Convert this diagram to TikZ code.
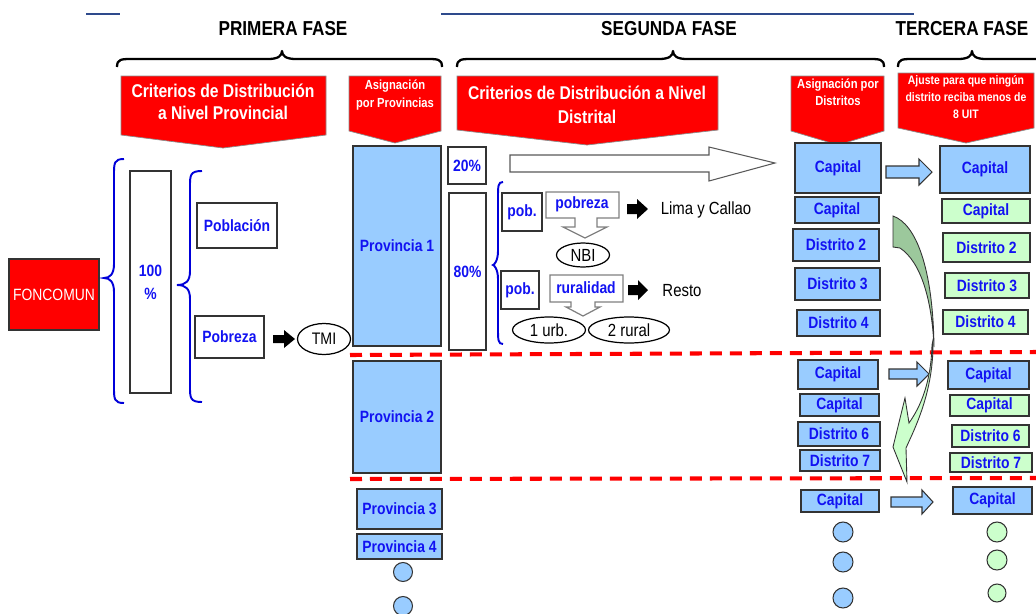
\documentclass[tikz,border=0pt]{standalone}
\usepackage{fontspec}
\setmainfont{Liberation Sans}
\newfontfamily\nar[FakeStretch=0.85]{Liberation Sans}
\usetikzlibrary{shapes.geometric}

\definecolor{boxblue}{HTML}{99CCFF}
\definecolor{boxgreen}{HTML}{CCFFCC}
\definecolor{darkgreen}{HTML}{9CC89C}
\definecolor{txtblue}{HTML}{1212F2}
\definecolor{navy}{HTML}{2E4A8C}
\definecolor{edge}{HTML}{333333}

% box node from its two corners: [style]{name}{x1}{y1}{x2}{y2}{text}
\newcommand\bx[7][bbox]{%
  \pgfmathsetmacro\bxw{(#5-#3)*0.02}%
  \pgfmathsetmacro\bxh{(#6-#4)*0.02}%
  \node[#1, minimum width=\bxw cm, minimum height=\bxh cm] (#2)
    at ({(#3+#5)/2},{(#4+#6)/2}) {#7};}
% horizontal block arrow: style, x start, x tip, x head base, y centre, half shaft, half head
\newcommand\harr[7]{%
  \path[#1] (#2,{#5-#6}) -- (#4,{#5-#6}) -- (#4,{#5-#7}) -- (#3,#5) -- (#4,{#5+#7})
    -- (#4,{#5+#6}) -- (#2,{#5+#6}) -- cycle;}
% horizontal curly brace opening downwards: x left, x right, x tip, y of the ends
\newcommand\hbrace[4]{%
  \draw[brc] (#1,#4) .. controls (#1,{#4-8}) and ({#1+4},{#4-8}) .. ({#1+16},{#4-8})
    -- ({#3-14},{#4-8}) .. controls ({#3-4},{#4-8}) and (#3,{#4-11}) .. (#3,{#4-16})
    .. controls (#3,{#4-11}) and ({#3+4},{#4-8}) .. ({#3+14},{#4-8})
    -- ({#2-16},{#4-8}) .. controls ({#2-4},{#4-8}) and (#2,{#4-8}) .. (#2,#4);}
% vertical curly brace opening rightwards: x ends, x spine, x tip, y top, y bottom, y tip
\newcommand\vbrace[6]{%
  \draw[bbrc] (#1,#4) .. controls (#2,#4) and (#2,{#4+4}) .. (#2,{#4+16})
    -- (#2,{#6-14}) .. controls (#2,{#6-4}) and ({#2-4},#6) .. (#3,#6)
    .. controls ({#2-4},#6) and (#2,{#6+4}) .. (#2,{#6+14})
    -- (#2,{#5-16}) .. controls (#2,{#5-4}) and (#2,#5) .. (#1,#5);}
% red header banner pointing down: x left, x right, y top, y side bottom, x tip, y tip
\newcommand\banner[6]{%
  \path[redhead] (#1,#3) -- (#2,#3) -- (#2,#4) -- (#5,#6) -- (#1,#4) -- cycle;}

\tikzset{
  x=0.02cm, y=-0.02cm,
  lab/.style={font=\nar\bfseries\fontsize{9.3}{11}\selectfont, text=txtblue},
  bbox/.style={draw=edge, line width=0.6pt, fill=boxblue, inner sep=0pt, lab},
  gbox/.style={bbox, fill=boxgreen},
  wbox/.style={draw=edge, line width=0.6pt, fill=white, inner sep=0pt, lab},
  hdr/.style={text=white, align=center, font=\nar\bfseries\fontsize{10.5}{12.5}\selectfont},
  hdrs/.style={text=white, align=center, font=\nar\bfseries\fontsize{7.5}{9.8}\selectfont},
  redhead/.style={fill=red, draw=black!45, line width=0.4pt},
  plain/.style={font=\nar\fontsize{10}{12}\selectfont, text=black},
  phase/.style={font=\nar\bfseries\fontsize{11.5}{13}\selectfont},
  brc/.style={line width=1.3pt, line join=round},
  bbrc/.style={draw=blue!85!black, line width=1.1pt},
  reddash/.style={red, line width=2.3pt, dash pattern=on 0.24cm off 0.16cm},
  blkarrow/.style={fill=black},
  bluearrow/.style={fill=boxblue, draw=edge, line width=0.6pt},
  oval/.style={ellipse, draw=black, line width=0.7pt, fill=white, inner sep=0pt, plain},
  callout/.style={draw=black!50, line width=0.7pt, fill=white},
  dot/.style={circle, draw=edge, line width=0.6pt, fill=boxblue, minimum size=0.4cm, inner sep=0pt},
}

\begin{document}
\begin{tikzpicture}
\useasboundingbox (0,0) rectangle (1036,613);

% rules at the top
\coordinate (r1a) at (86,14);  \coordinate (r1b) at (120,14);
\coordinate (r2a) at (441,14); \coordinate (r2b) at (914,14);
\draw[navy, line width=1.2pt] (r1a) -- (r1b);
\draw[navy, line width=1.2pt] (r2a) -- (r2b);

% phase titles and braces
\node[phase] (f1) at (283,29) {PRIMERA FASE};
\node[phase] (f2) at (669,29) {SEGUNDA FASE};
\node[phase] (f3) at (962,29) {TERCERA FASE};
\hbrace{117}{442}{282}{67}
\hbrace{457}{884}{673}{67}
\hbrace{898}{1070}{972}{67}

% red banners
\banner{121}{326}{76}{135}{223}{148}
\node[hdr] (h1) at (223,102) {Criterios de Distribución\\a Nivel Provincial};
\banner{349}{441}{76}{131}{395}{143}
\node[hdrs] (h2) at (395,95) {Asignación\\por Provincias};
\banner{457}{718}{76}{130}{587}{145}
\node[hdr, font=\nar\bfseries\fontsize{10.5}{13.5}\selectfont] (h3) at (587,105) {Criterios de Distribución a Nivel\\Distrital};
\banner{791}{884}{76}{131}{838}{145}
\node[hdrs] (h4) at (838,92) {Asignación por\\Distritos};
\banner{898}{1034}{73}{128}{966}{143}
\node[hdrs, font=\nar\bfseries\fontsize{7}{9.6}\selectfont] (h5) at (966,97) {Ajuste para que ningún\\distrito reciba menos de\\8 UIT};

% first phase
\bx[bbox, fill=red, text=white, font=\nar\fontsize{9.3}{11}\selectfont]{fon}{9}{259}{99}{330}{FONCOMUN}
\vbrace{124}{114}{104}{159}{403}{278}
\bx[wbox, align=center, font=\nar\bfseries\fontsize{9.3}{13}\selectfont]{cien}{130}{171}{171}{393}{100\\\%}
\vbrace{202}{190}{177}{171}{402}{285}
\bx[wbox]{pobl}{197}{203}{277}{248}{Población}
\bx[wbox]{pobr}{195}{316}{264}{358}{Pobreza}
\node[oval, minimum width=1.06cm, minimum height=0.62cm, font=\nar\fontsize{9.5}{11}\selectfont] (tmi) at (324,339) {TMI};
\harr{blkarrow}{273}{295}{284}{339}{4}{9}

% allocation by province
\bx{p1}{353}{146}{441}{346}{Provincia 1}
\bx{p2}{353}{361}{441}{473}{Provincia 2}
\bx{p3}{357}{489}{442}{529}{Provincia 3}
\bx{p4}{357}{534}{442}{559}{Provincia 4}
\node[dot, minimum size=0.38cm] (pc1) at (403,572) {};
\node[dot, minimum size=0.38cm] (pc2) at (403,606) {};

% second phase: district criteria
\bx[wbox]{v20}{448}{147}{486}{184}{20\%}
\bx[wbox]{v80}{449}{193}{486}{350}{80\%}
\path[draw=black!65, line width=0.6pt, fill=white]
  (510,155) -- (709,155) -- (709,147) -- (775,163) -- (709,181) -- (709,172) -- (510,172) -- cycle;
\vbrace{503}{498}{493}{182}{344}{265}
\bx[wbox]{pob1}{502}{193}{542}{231}{pob.}
\path[callout] (546,192) -- (619,192) -- (619,218) -- (597,218) -- (597,227) -- (607,227)
  -- (585,238) -- (563,227) -- (575,227) -- (575,218) -- (546,218) -- cycle;
\node[lab] (pobz) at (582,204) {pobreza};
\harr{blkarrow}{627}{648}{637}{209}{5}{10}
\node[plain] (lima) at (706,210) {Lima y Callao};
\node[oval, minimum width=1.06cm, minimum height=0.48cm] (nbi) at (583,255) {NBI};
\bx[wbox]{pob2}{501}{271}{539}{309}{pob.}
\path[callout] (550,275) -- (623,275) -- (623,302) -- (595,302) -- (595,307) -- (600,307)
  -- (583,316) -- (566,307) -- (571,307) -- (571,302) -- (550,302) -- cycle;
\node[lab] (rural) at (586,288) {ruralidad};
\harr{blkarrow}{628}{648}{638}{290}{5}{10}
\node[plain] (resto) at (682,291) {Resto};
\node[oval, minimum width=1.46cm, minimum height=0.52cm] (urb) at (549,330) {1 urb.};
\node[oval, minimum width=1.62cm, minimum height=0.52cm] (rur) at (629,330) {2 rural};

% allocation by district
\bx{ca1}{795}{143}{881}{193}{Capital}
\bx{cb1}{795}{197}{879}{223}{Capital}
\bx{d2}{793}{229}{879}{261}{Distrito 2}
\bx{d3}{795}{268}{880}{300}{Distrito 3}
\bx{d4}{797}{310}{880}{336}{Distrito 4}
\bx{ca2}{798}{360}{878}{389}{Capital}
\bx{cb2}{800}{394}{879}{416}{Capital}
\bx{d6}{798}{422}{880}{446}{Distrito 6}
\bx{d7}{800}{450}{880}{471}{Distrito 7}
\bx{ca3}{801}{490}{879}{512}{Capital}
\foreach \yy/\nm in {532/b1, 562/b2, 598/b3}
  \node[dot] (\nm) at (843,\yy) {};

% third phase: adjusted amounts
\bx{ta1}{940}{146}{1030}{193}{Capital}
\bx[gbox]{tb1}{942}{199}{1030}{223}{Capital}
\bx[gbox]{t2}{943}{233}{1030}{262}{Distrito 2}
\bx[gbox]{t3}{945}{273}{1029}{298}{Distrito 3}
\bx[gbox]{t4}{943}{310}{1028}{334}{Distrito 4}
\bx{ta2}{948}{361}{1029}{389}{Capital}
\bx[gbox]{tb2}{950}{395}{1029}{416}{Capital}
\bx[gbox]{t6}{952}{425}{1029}{447}{Distrito 6}
\bx[gbox]{t7}{950}{453}{1032}{472}{Distrito 7}
\bx{ta3}{953}{487}{1032}{514}{Capital}
\foreach \yy/\nm/\sz in {532/g1/0.4cm, 560/g2/0.4cm, 593/g3/0.36cm}
  \node[dot, fill=boxgreen, minimum size=\sz] (\nm) at (997,\yy) {};

\harr{bluearrow}{886}{932}{919}{172}{6}{13}
\harr{bluearrow}{889}{929}{917}{374}{5}{12}
\harr{bluearrow}{891}{933}{922}{502}{5}{12}

% province separators
\coordinate (s1a) at (350,355); \coordinate (s1b) at (1036,352);
\coordinate (s2a) at (350,479); \coordinate (s2b) at (1036,478);
\draw[reddash] (s1a) -- (s1b);
\draw[reddash] (s2a) -- (s2b);

% curved transfer arrow
\path[fill=darkgreen, draw=edge, line width=0.5pt]
  (893,216) .. controls (916,224) and (933,268) .. (934,347)
  .. controls (932,300) and (921,262) .. (900,248) -- (893,247) -- cycle;
\path[fill=boxgreen, draw=edge, line width=0.5pt]
  (933,340) .. controls (934,392) and (914,430) .. (906,448) -- (907,482) -- (893,447)
  -- (905,398) -- (909,423) .. controls (921,406) and (931,382) .. (932,345) -- cycle;

\end{tikzpicture}
\end{document}
